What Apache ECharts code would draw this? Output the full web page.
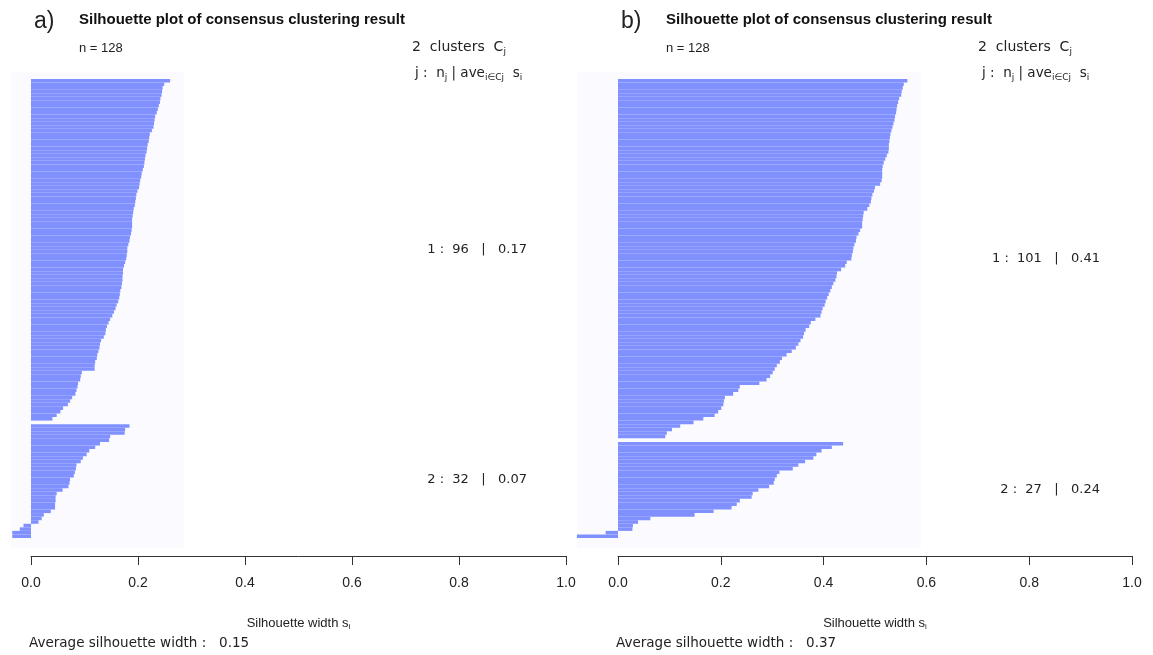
<html>
<head>
<title>Silhouette plots of consensus clustering</title>
<script src="https://cdn.jsdelivr.net/npm/echarts@6/dist/echarts.min.js"></script>
</head>
<body>
<style>
    html, body, #main {
        width: 100%;
        height: 100%;
        margin: 0;
        background: #ffffff;
    }
</style>
<div id="main"></div>

<script>

// silhouette widths, sorted within each cluster
const aCluster1 = [
    0.260, 0.249, 0.246, 0.245, 0.244, 0.242, 0.241, 0.239, 0.237, 0.235,
    0.232, 0.231, 0.230, 0.229, 0.226, 0.222, 0.221, 0.220, 0.218, 0.217,
    0.216, 0.214, 0.213, 0.212, 0.211, 0.209, 0.207, 0.206, 0.204, 0.203,
    0.202, 0.199, 0.197, 0.196, 0.195, 0.194, 0.192, 0.191, 0.190, 0.189,
    0.189, 0.189, 0.188, 0.187, 0.185, 0.184, 0.182,
    0.180, 0.180, 0.179, 0.178, 0.176, 0.174, 0.172, 0.172, 0.171, 0.171,
    0.170, 0.169, 0.167, 0.166, 0.165, 0.163, 0.160, 0.158, 0.155, 0.152,
    0.148, 0.145, 0.142, 0.140, 0.139, 0.136, 0.131, 0.129, 0.128, 0.126,
    0.124, 0.123, 0.120, 0.119, 0.119, 0.095, 0.093, 0.092, 0.088, 0.087,
    0.085, 0.083, 0.077, 0.073, 0.069, 0.060, 0.055, 0.048, 0.040
];
const aCluster2 = [
    0.184, 0.176, 0.175, 0.148, 0.146, 0.129, 0.120, 0.109, 0.104, 0.097,
    0.093, 0.085, 0.084, 0.082, 0.080, 0.073, 0.072, 0.070, 0.059, 0.048,
    0.046, 0.046, 0.045, 0.045, 0.037, 0.024, 0.020, 0.014, -0.014, -0.021,
    -0.035, -0.035
];
const bCluster1 = [
    0.563, 0.556, 0.554, 0.552, 0.551, 0.547, 0.545, 0.543, 0.542, 0.541,
    0.539, 0.538, 0.536, 0.534, 0.532, 0.530, 0.529, 0.528, 0.527, 0.527,
    0.526, 0.523, 0.520, 0.517, 0.515, 0.514, 0.514, 0.514, 0.513, 0.510,
    0.500, 0.498, 0.495, 0.493, 0.492, 0.489, 0.485, 0.478, 0.477, 0.476,
    0.475, 0.475, 0.471, 0.468, 0.464, 0.463, 0.460, 0.458,
    0.457, 0.455, 0.454, 0.445, 0.442, 0.434, 0.426, 0.425, 0.423, 0.419,
    0.416, 0.413, 0.410, 0.407, 0.404, 0.402, 0.398, 0.396, 0.394, 0.384,
    0.375, 0.372, 0.365, 0.362, 0.360, 0.355, 0.351, 0.346, 0.338, 0.328,
    0.319, 0.315, 0.309, 0.305, 0.301, 0.296, 0.289, 0.275, 0.237, 0.234,
    0.224, 0.208, 0.206, 0.205, 0.201, 0.195, 0.188, 0.166, 0.147, 0.121,
    0.105, 0.095, 0.092
];
const bCluster2 = [
    0.438, 0.416, 0.396, 0.386, 0.380, 0.364, 0.351, 0.340, 0.314, 0.309,
    0.305, 0.303, 0.294, 0.273, 0.262, 0.260, 0.237, 0.231, 0.221, 0.186,
    0.149, 0.063, 0.039, 0.029, 0.028, -0.024, -0.080
];

const xTicks = [0, 0.2, 0.4, 0.6, 0.8, 1.0];
const aClusterLabels = ['1 :  96   |   0.17', '2 :  32   |   0.07'];
const bClusterLabels = ['1 :  101   |   0.41', '2 :  27   |   0.24'];
const aAverage = '0.15';
const bAverage = '0.37';
const sampleSize = 128;

// one empty slot between the two clusters, like R's barplot space
function slots(c1, c2) {
    return c1.concat([null], c2);
}
const aData = slots(aCluster1, aCluster2);
const bData = slots(bCluster1, bCluster2);
const slotNames = aData.map((v, i) => String(i));

const FONT = '"Liberation Sans", Arial, sans-serif';
const WIDE = '"DejaVu Sans", sans-serif';
const BAR = '#8090ff';
const PANEL_BG = '#fafaff';
const INK = '#222222';

const subRich = {
    m: { fontFamily: FONT, fontSize: 13, color: INK, lineHeight: 18, verticalAlign: 'middle' },
    s: { fontFamily: FONT, fontSize: 8, color: INK, lineHeight: 18, verticalAlign: 'bottom', padding: [0, 0, 1, 0] }
};

function xAxis(gridIndex) {
    return {
        gridIndex: gridIndex,
        type: 'value',
        min: 0,
        max: 1,
        interval: 0.2,
        offset: 18,
        axisLine: { show: true, lineStyle: { color: '#333', width: 1 } },
        axisTick: { show: true, length: 9, lineStyle: { color: '#333', width: 1 } },
        axisLabel: {
            margin: 20, fontSize: 14, fontFamily: FONT, color: INK,
            customValues: xTicks,
            formatter: v => v.toFixed(1)
        },
        splitLine: { show: false },
        name: '{m|Silhouette width s}{s|i}',
        nameLocation: 'middle',
        nameGap: 58,
        nameTextStyle: { rich: subRich }
    };
}

function yAxis(gridIndex) {
    return {
        gridIndex: gridIndex,
        type: 'category',
        data: slotNames,
        inverse: true,
        show: false
    };
}

function barSeries(idx, data) {
    return {
        type: 'bar',
        xAxisIndex: idx,
        yAxisIndex: idx,
        data: data,
        barCategoryGap: '0%',
        clip: false,
        silent: true,
        itemStyle: { color: BAR },
        z: 2
    };
}

function text(x, y, str, style) {
    return {
        type: 'text', x: x, y: y, z: 5,
        style: Object.assign({
            text: str, fontFamily: FONT, fontSize: 13, fill: INK,
            verticalAlign: 'middle'
        }, style || {})
    };
}

function richText(x, y, str, rich) {
    return {
        type: 'text', x: x, y: y, z: 5,
        style: { text: str, rich: rich, verticalAlign: 'middle', fontFamily: WIDE }
    };
}

const headRich = {
    m: { fontFamily: WIDE, fontSize: 14, fill: INK, color: INK, lineHeight: 18, verticalAlign: 'middle' },
    s: { fontFamily: WIDE, fontSize: 9, fill: INK, color: INK, lineHeight: 18, verticalAlign: 'bottom' }
};
const jRich = {
    m: { fontFamily: WIDE, fontSize: 13.5, fill: INK, color: INK, lineHeight: 18, verticalAlign: 'middle' },
    s: { fontFamily: WIDE, fontSize: 9, fill: INK, color: INK, lineHeight: 18, verticalAlign: 'bottom' }
};

function panelGraphics(p) {
    return [
        { type: 'rect', z: -1, shape: { x: p.bgLeft, y: 72, width: p.bgWidth, height: 476 },
          style: { fill: PANEL_BG } },
        text(p.ox + 3, 22, p.letter, { fontSize: 23 }),
        text(p.ox + 48, 20, 'Silhouette plot of consensus clustering result',
             { fontSize: 15, fontWeight: 'bold', fill: '#111' }),
        text(p.ox + 48, 48, 'n = ' + sampleSize, { fontSize: 13 }),
        richText(p.headX, 47, '{m|2  clusters  C}{s|j}', headRich),
        richText(p.jX, 73, '{m|j :  n}{s|j}{m| | ave}{s|i∈Cj}{m|  s}{s|i}', jRich),
        text(p.labelRight, p.y1, p.labels[0], { fontFamily: WIDE, fontSize: 13, align: 'right' }),
        text(p.labelRight, p.y2, p.labels[1], { fontFamily: WIDE, fontSize: 13, align: 'right' }),
        text(p.ox - 2, 643, 'Average silhouette width :   ' + p.avg, { fontFamily: WIDE, fontSize: 13.5 })
    ];
}

var myChart = echarts.init(document.getElementById('main'), null, { renderer: 'canvas' });

option = {
    animation: false,
    backgroundColor: '#ffffff',
    grid: [
        { left: 31, top: 79, width: 535, height: 459 },
        { left: 618, top: 79, width: 514, height: 459 }
    ],
    xAxis: [xAxis(0), xAxis(1)],
    yAxis: [yAxis(0), yAxis(1)],
    series: [barSeries(0, aData), barSeries(1, bData)],
    graphic: {
        elements: [].concat(
            panelGraphics({ ox: 31, bgLeft: 11, bgWidth: 173, letter: 'a)', labels: aClusterLabels,
                avg: aAverage, labelRight: 527, y1: 250, y2: 480, headX: 412, jX: 415 }),
            panelGraphics({ ox: 618, bgLeft: 577, bgWidth: 344, letter: 'b)', labels: bClusterLabels,
                avg: bAverage, labelRight: 1100, y1: 259, y2: 490, headX: 978, jX: 982 })
        )
    }
};
myChart.setOption(option);

</script>
</body>
</html>
